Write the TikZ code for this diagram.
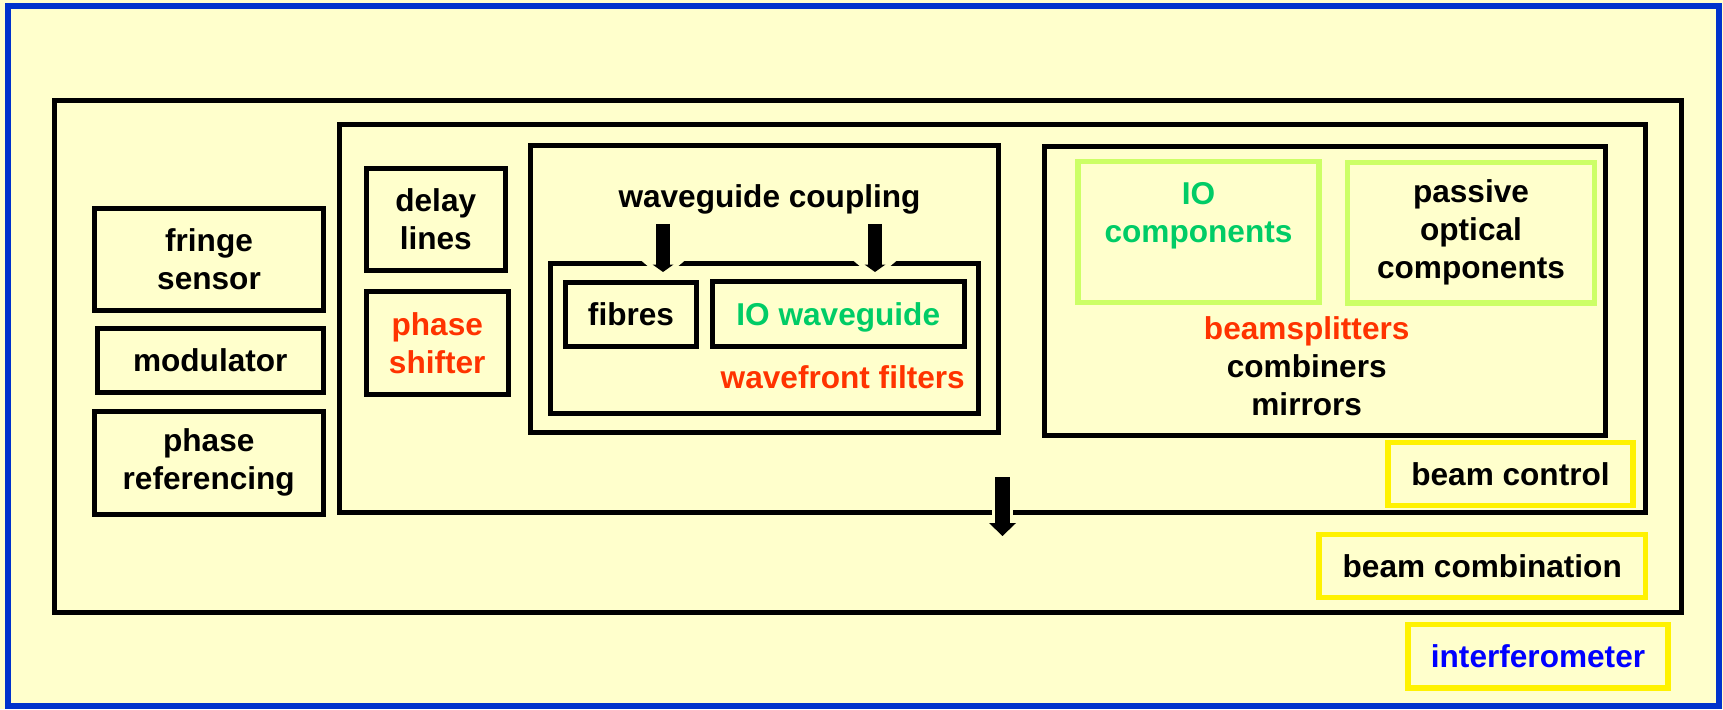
\documentclass[tikz,border=0pt]{standalone}
\usepackage{fontspec}
\setmainfont{Liberation Sans}
\usetikzlibrary{arrows.meta}
\definecolor{paper}{HTML}{FFFFCC}
\definecolor{frameblue}{HTML}{0033CC}
\definecolor{hotred}{HTML}{FF3300}
\definecolor{iogreen}{HTML}{00CC66}
\definecolor{lime}{HTML}{CCFF66}
\def\notch(#1,#2){\fill[paper] (#1-26,#2) -- (#1+26,#2) -- (#1,#2+22) -- cycle;}
\tikzset{
	word/.style={font=\fontsize{31.6}{38}\selectfont\bfseries, align=center, inner sep=0pt},
	unit/.style={word, draw=black, line width=5pt},
	tag/.style={unit, draw=yellow, line width=5.5pt},
	part/.style={unit, draw=lime, line width=5.5pt},
	push/.style={line width=14pt, -{Triangle[width=21pt,length=7.5pt,line width=0pt]}},
	drop/.style={line width=15pt, -{Triangle[width=27pt,length=13pt,line width=0pt]}}
}

\begin{document}
\begin{tikzpicture}[x=1pt,y=-1pt]
		%%%%% START %%%%%
		
		\fill[paper] (0,0) rectangle (1723,709);
		\useasboundingbox (0,0) rectangle (1723,709);
		\draw[frameblue, line width=6pt] (8,6) rectangle (1719,706);
		
		% nested frames
		\draw[line width=5pt] (54,100.5) rectangle (1681,612.5);
		\draw[line width=5pt] (339.5,124.5) rectangle (1645.5,512);
		\draw[line width=5pt] (530.5,145) rectangle (998.5,432);
		\draw[line width=5pt] (550.5,263.5) rectangle (978.5,413.5);
		\draw[line width=5pt] (1044.6,146.5) rectangle (1605.5,435.5);
		
		% left column
		\node[unit, minimum width=229pt, minimum height=102pt] (fringe) at (209,259.5) {fringe\\sensor};
		\node[unit, minimum width=225.5pt, minimum height=63.5pt] (modulator) at (210.25,360.25) {modulator};
		\node[unit, minimum width=229.5pt, minimum height=102.5pt] (referencing) at (208.75,462.75) {phase\\referencing};
		
		\node[unit, minimum width=138.5pt, minimum height=102pt] (delay) at (435.75,219.5) {delay\\lines};
		\node[unit, text=hotred, minimum width=141.5pt, minimum height=102.5pt] (shifter) at (437.25,342.75) {phase\\shifter};
		
		% waveguides
		\node[word, anchor=base] (coupling) at (769.5,207) {waveguide coupling};
		\node[unit, minimum width=131pt, minimum height=63.5pt] (fibres) at (631,314.25) {fibres};
		\node[unit, text=iogreen, text depth=0pt, minimum width=251.5pt, minimum height=64.5pt] (waveguide) at (838.25,313.75) {IO waveguide};
		\node[word, text=hotred, anchor=base east] (filters) at (965,388) {wavefront filters};
		
		\coordinate (in1) at (663,272);
		\coordinate (in2) at (875,272);
		\notch(663,257)
		\notch(875,257)
		\draw[push, shorten <=10pt] (coupling.south -| in1) -- (in1);
		\draw[push, shorten <=10pt] (coupling.south -| in2) -- (in2);
		
		% optics
		\node[part, text=iogreen, minimum width=241pt, minimum height=141pt] (iocomp) at (1198.5,232) {IO\\components\\\phantom{o}};
		\node[part, minimum width=247pt, minimum height=140.5pt] (passive) at (1471,232.75) {passive\\optical\\components};
		\node[word] (optics) at (1306.7,366.5) {\textcolor{hotred}{beamsplitters}\\combiners\\mirrors};
		
		% labels
		\node[tag, minimum width=245pt, minimum height=63pt] (control) at (1510.5,474) {beam control};
		\node[tag, minimum width=326.5pt, minimum height=63pt] (combination) at (1482.25,566) {beam combination};
		\node[tag, text=blue, minimum width=260pt, minimum height=63.5pt] (interferometer) at (1538,656.25) {interferometer};
		
		\coordinate (out) at (1002.5,477);
		\coordinate (into) at (1002.5,536);
		\fill[paper] (992,505) rectangle (1013,516);
		\draw[drop] (out) -- (into);
		
		%%%%% END %%%%%
\end{tikzpicture}
\end{document}
